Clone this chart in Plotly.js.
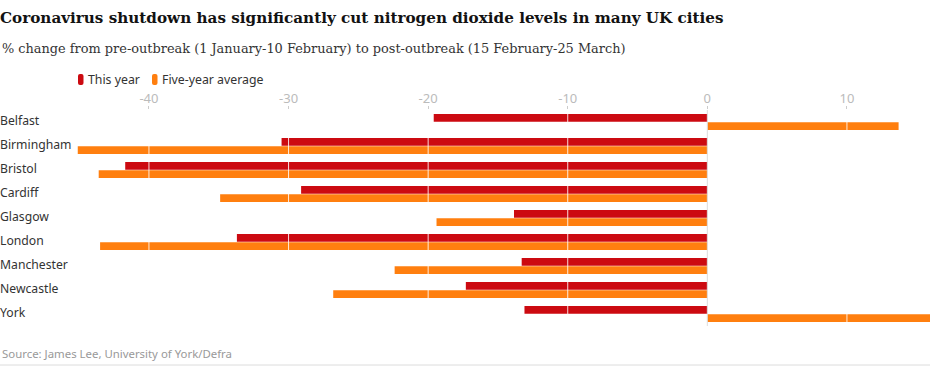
<!DOCTYPE html>
<html>
<head>
<meta charset="utf-8">
<script src="https://cdn.plot.ly/plotly-3.0.1.min.js"></script>
<style>
  html, body { margin: 0; padding: 0; background: #fff; }
  #chart { width: 947px; height: 374px; }
</style>
</head>
<body>
<div id="chart"></div>
<script>
// ---- data ----
const cities = ['Belfast', 'Birmingham', 'Bristol', 'Cardiff', 'Glasgow', 'London', 'Manchester', 'Newcastle', 'York'];
const thisYear = [-19.6, -30.5, -41.7, -29.1, -13.85, -33.7, -13.3, -17.3, -13.1];
const fiveYearAverage = [13.7, -45.1, -43.6, -34.9, -19.4, -43.5, -22.4, -26.8, 16.0];
const seriesNames = ['This year', 'Five-year average'];
const tickValues = [-40, -30, -20, -10, 0, 10];
const tickLabels = ['-40', '-30', '-20', '-10', '0', '10'];

const titleText = 'Coronavirus shutdown has significantly cut nitrogen dioxide levels in many UK cities';
const subtitleText = '% change from pre-outbreak (1 January-10 February) to post-outbreak (15 February-25 March)';
const sourceText = 'Source: James Lee, University of York/Defra';

// ---- style ----
const colors = ['#cc0a11', '#ff7f0f'];
const W = 947, H = 374;
const M = { l: 0, r: 17, t: 110, b: 48 };
const plotW = W - M.l - M.r, plotH = H - M.t - M.b;
const px = x => (x - M.l) / plotW;           // pixel -> paper x
const py = y => (H - M.b - y) / plotH;       // pixel -> paper y
const sans = 'Noto Sans, Open Sans, sans-serif';

const traces = [thisYear, fiveYearAverage].map((vals, i) => ({
  type: 'bar',
  orientation: 'h',
  name: seriesNames[i],
  y: cities,
  x: vals,
  marker: { color: colors[i], line: { width: 0 } },
  hoverinfo: 'x+y+name'
}));

const shapes = tickValues.map(v => ({
  type: 'line', layer: 'above', xref: 'x', yref: 'paper',
  x0: v, x1: v, y0: 0, y1: 1,
  line: { color: v === 0 ? '#dcdcdc' : 'rgba(255,255,255,0.85)', width: 1 }
}));
// bottom rule
shapes.push({
  type: 'line', xref: 'paper', yref: 'paper',
  x0: px(0), x1: px(930), y0: py(365), y1: py(365),
  line: { color: '#dcdcdc', width: 1 }
});

const annotations = [
  {
    text: subtitleText, xref: 'paper', yref: 'paper', x: px(0), y: py(49),
    xanchor: 'left', yanchor: 'middle', showarrow: false,
    font: { family: 'DejaVu Serif, serif', size: 12.9, color: '#333' }
  },
  {
    text: sourceText, xref: 'paper', yref: 'paper', x: px(0), y: py(353),
    xanchor: 'left', yanchor: 'middle', showarrow: false,
    font: { family: sans, size: 11.4, color: '#999' }
  }
];

// custom legend: rounded bars + labels
const legendX = [78, 152];
seriesNames.forEach((name, i) => {
  const x0 = legendX[i], x1 = x0 + 5.5, y0 = 74, y1 = 85, r = 2;
  shapes.push({
    type: 'path', xref: 'paper', yref: 'paper',
    path: `M ${px(x0 + r)} ${py(y0)} L ${px(x1 - r)} ${py(y0)} Q ${px(x1)} ${py(y0)} ${px(x1)} ${py(y0 + r)} L ${px(x1)} ${py(y1 - r)} Q ${px(x1)} ${py(y1)} ${px(x1 - r)} ${py(y1)} L ${px(x0 + r)} ${py(y1)} Q ${px(x0)} ${py(y1)} ${px(x0)} ${py(y1 - r)} L ${px(x0)} ${py(y0 + r)} Q ${px(x0)} ${py(y0)} ${px(x0 + r)} ${py(y0)} Z`,
    fillcolor: colors[i], line: { width: 0 }
  });
  annotations.push({
    text: name, xref: 'paper', yref: 'paper', x: px(x0 + 8), y: py(79.5),
    xanchor: 'left', yanchor: 'middle', showarrow: false,
    font: { family: sans, size: 12.3, color: '#333' }
  });
});

const layout = {
  width: W, height: H,
  margin: M,
  paper_bgcolor: '#fff', plot_bgcolor: '#fff',
  showlegend: false,
  barmode: 'group',
  bargap: 0.30,
  bargroupgap: 0.08,
  title: {
    text: '<b>' + titleText + '</b>',
    xref: 'container', yref: 'container', x: 0, xanchor: 'left',
    y: 1 - 18 / H, yanchor: 'middle',
    font: { family: 'DejaVu Serif, serif', size: 15.2, color: '#121212' }
  },
  xaxis: {
    side: 'top',
    range: [-50.67, 15.95],
    tickvals: tickValues, ticktext: tickLabels,
    ticks: 'outside', ticklen: 3, tickcolor: '#cccccc', tickwidth: 1,
    ticklabelstandoff: -2,
    tickfont: { family: sans, size: 13, color: '#bbbbbb' },
    showgrid: false, zeroline: false, showline: false,
    fixedrange: true
  },
  yaxis: {
    type: 'category',
    autorange: 'reversed',
    ticklabelposition: 'inside',
    ticklabelstandoff: -3,
    ticklabelshift: 1,
    ticks: '',
    tickfont: { family: sans, size: 12.2, color: '#333' },
    showgrid: false, zeroline: false, showline: false,
    fixedrange: true
  },
  shapes, annotations
};

Plotly.newPlot('chart', traces, layout, { displayModeBar: false, staticPlot: true });
</script>
</body>
</html>
